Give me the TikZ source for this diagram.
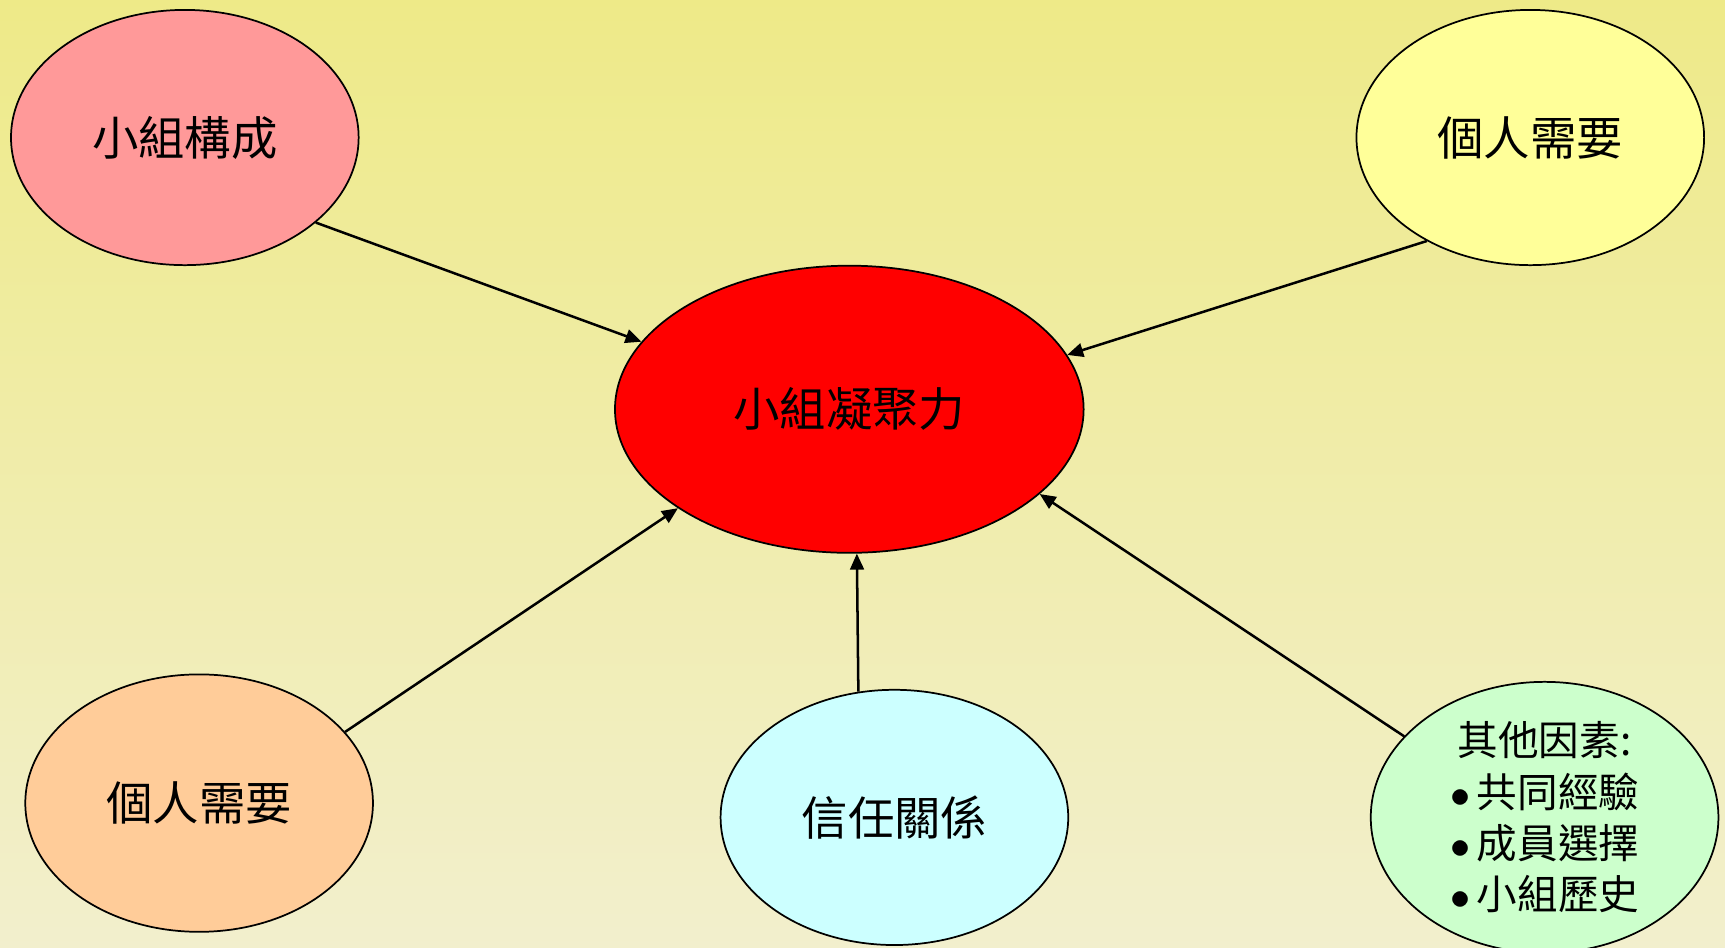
\documentclass[tikz,border=0pt]{standalone}
\usepackage{fontspec}
\setmainfont{Noto Sans CJK TC}
\usetikzlibrary{shapes.geometric}
\usetikzlibrary{arrows.meta}
\definecolor{bgtop}{RGB}{238,234,136}
\definecolor{bgbottom}{RGB}{242,239,205}
\tikzstyle{factornode} = [draw, ellipse, line width=0.9pt, minimum width=6.32cm, minimum height=4.64cm, inner sep=0pt, align=center, font=\fontsize{24}{28}\selectfont]
\tikzstyle{listtext} = [font=\fontsize{21}{26.6}\selectfont]
\tikzstyle{link} = [-{Triangle[length=0.29cm,width=0.25cm]}, line width=1.3pt]

\begin{document}
\begin{tikzpicture}
\shade[top color=bgtop, bottom color=bgbottom] (0,0) rectangle (31.36,-17.22);
\useasboundingbox (0,0) rectangle (31.36,-17.22);

\node[factornode, fill=red, minimum width=8.52cm, minimum height=5.22cm] (cohesion) at (15.44,-7.44) {小組凝聚力};
\node[factornode, fill={rgb,255:red,255;green,153;blue,153}] (group_comp) at (3.36,-2.50) {小組構成};
\node[factornode, fill={rgb,255:red,255;green,255;blue,153}] (need_top) at (27.82,-2.50) {個人需要};
\node[factornode, fill={rgb,255:red,255;green,204;blue,153}, minimum height=4.68cm] (need_bottom) at (3.62,-14.60) {個人需要};
\node[factornode, fill={rgb,255:red,204;green,255;blue,255}] (trust) at (16.26,-14.86) {信任關係};
\node[factornode, fill={rgb,255:red,204;green,255;blue,204}, listtext] (other) at (28.08,-14.86) {其他因素:\\$\bullet$\,共同經驗\\$\bullet$\,成員選擇\\$\bullet$\,小組歷史};

\draw[link] (group_comp.-33) -- (cohesion.162);
\draw[link] (need_top.225) -- (cohesion.14);
\draw[link] (need_bottom.26) -- (cohesion.210);
\draw[link] (trust.106) -- (cohesion.273);
\draw[link] (other.150) -- (cohesion.-24);
\end{tikzpicture}
\end{document}
